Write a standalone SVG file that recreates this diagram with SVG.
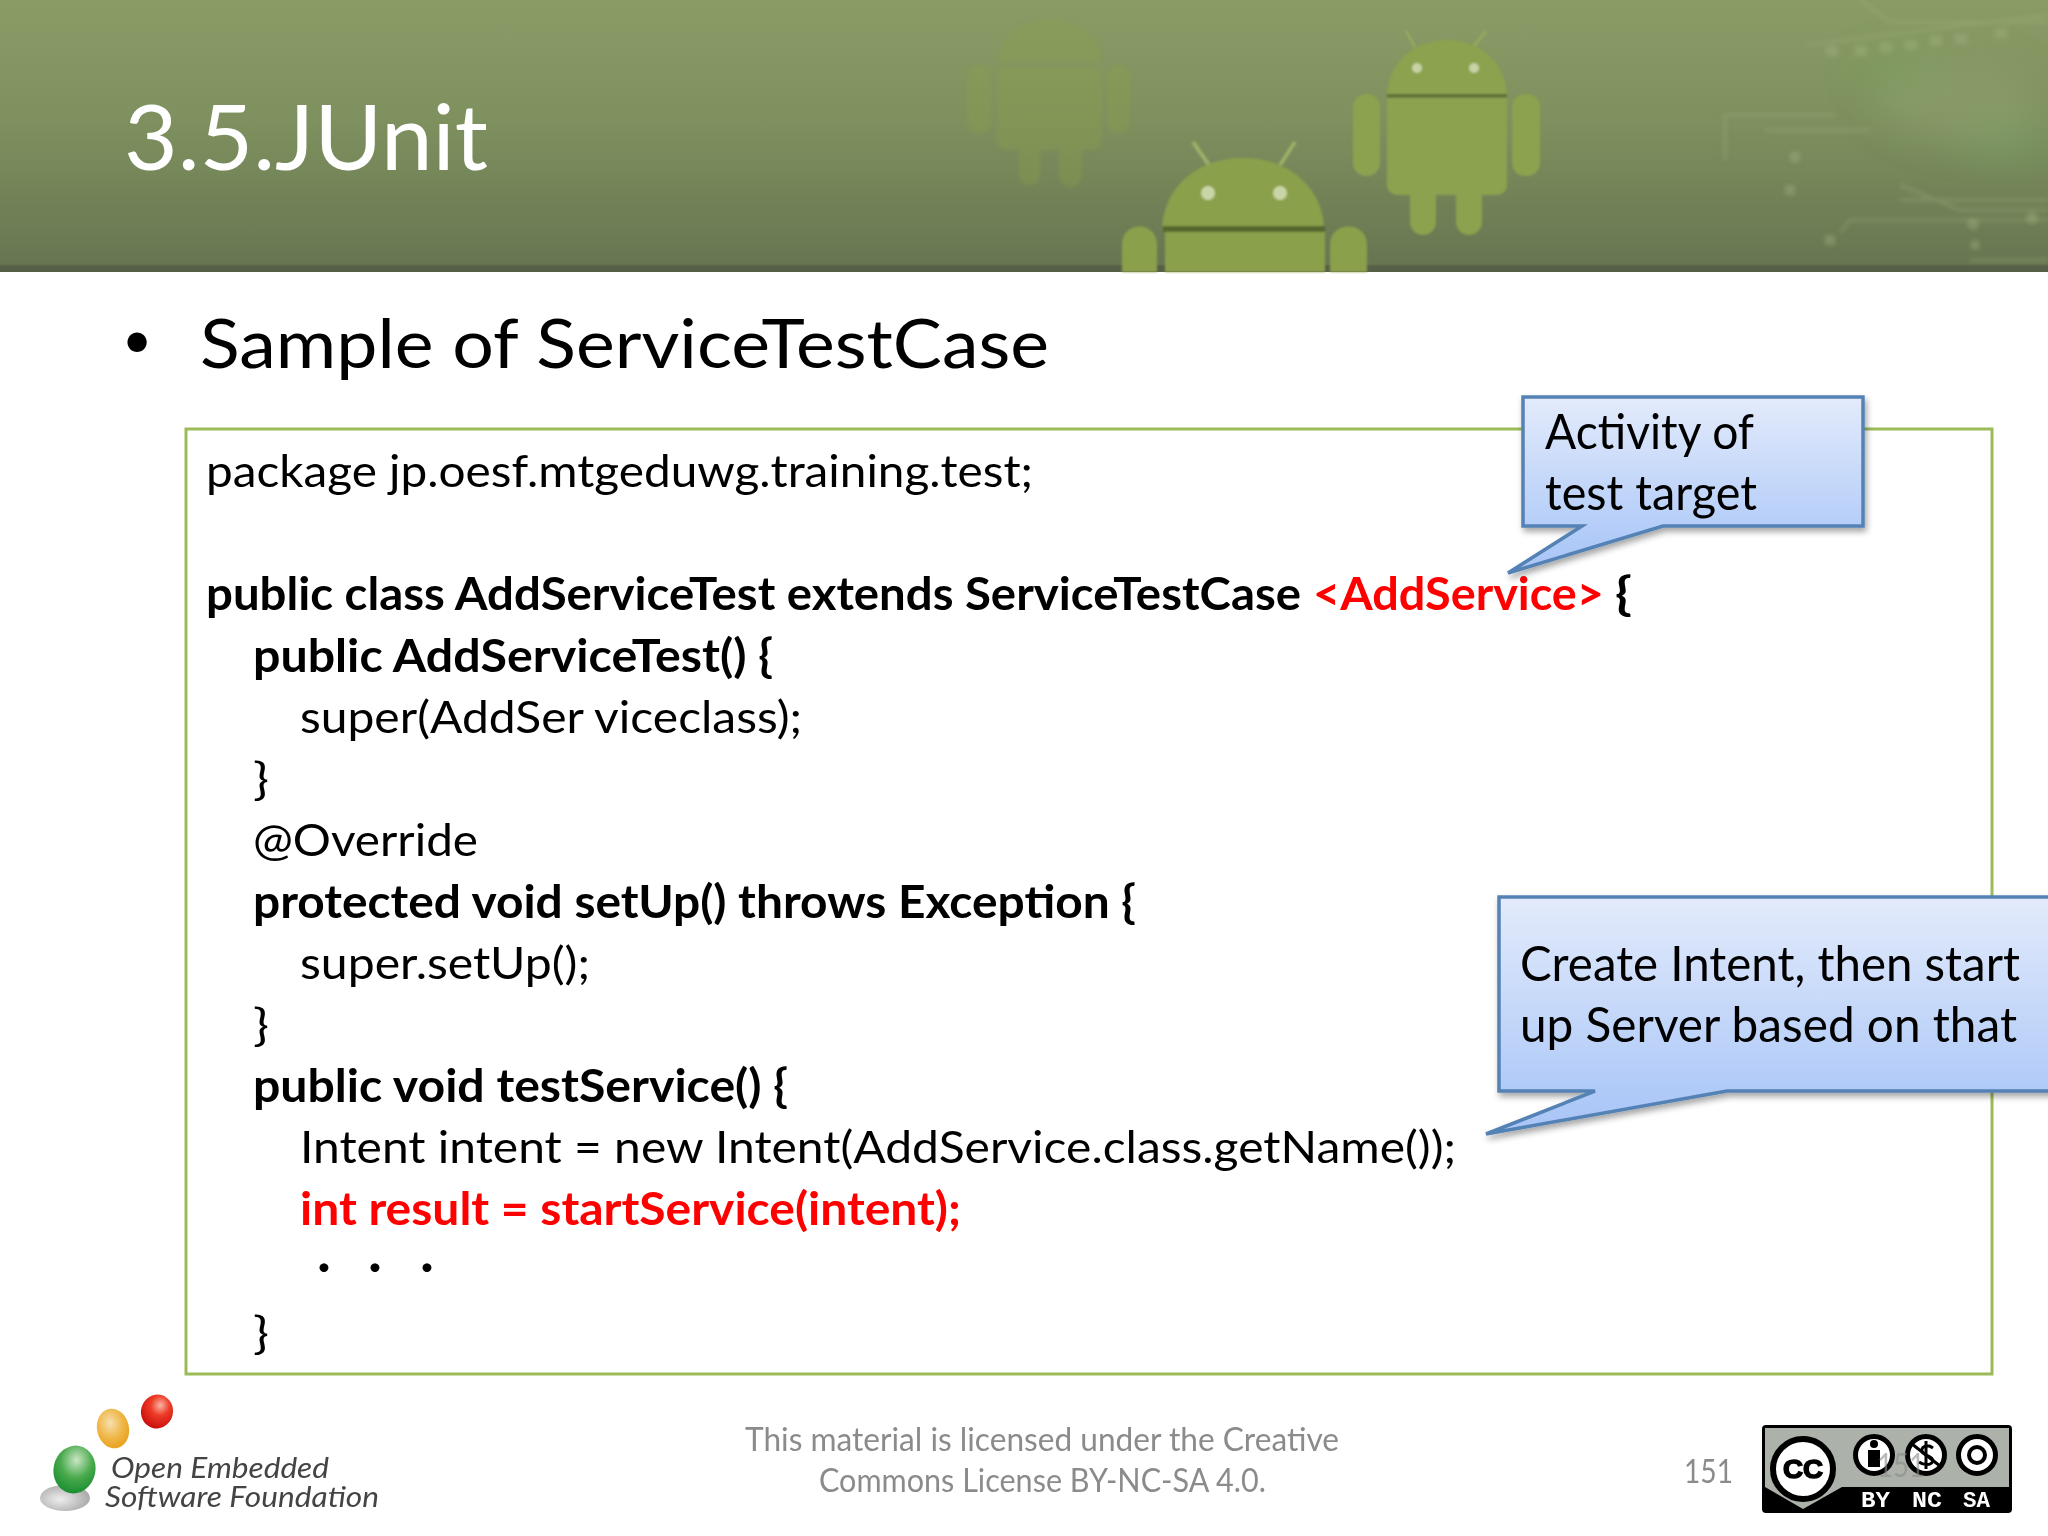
<svg xmlns="http://www.w3.org/2000/svg" width="2048" height="1536" viewBox="0 0 2048 1536">
<style>
text{font-family:Lato,"Liberation Sans",sans-serif}
.c{font-size:45px;fill:#000}
.b{font-weight:700}
.r{fill:#f00}
.call{font-size:48px;fill:#000}
.foot{font-size:32px;fill:#8b8b8b}
.box{stroke:#5482b5;stroke-width:3.5;fill:url(#blue);filter:url(#sh)}
.badgeT{font-family:"Liberation Mono",monospace;font-weight:700;font-size:22px;fill:#fff}
.logoT{font-size:29px;font-style:italic;fill:#444}
.trace{fill:none;stroke:#a3b382;stroke-width:3;opacity:.35}
.pad{fill:#a3b382;opacity:.4}
</style>
<defs>
<linearGradient id="hdr" x1="0" y1="0" x2="0" y2="1"><stop offset="0" stop-color="#8a9c66"/><stop offset=".45" stop-color="#7e905e"/><stop offset=".97" stop-color="#677651"/><stop offset=".98" stop-color="#565f48"/><stop offset="1" stop-color="#555e47"/></linearGradient>
<linearGradient id="blue" x1="0" y1="0" x2="0" y2="1"><stop offset="0" stop-color="#e3ebfb"/><stop offset=".8" stop-color="#b1cbf8"/><stop offset="1" stop-color="#a9c5f6"/></linearGradient>
<filter id="sh" x="-5%" y="-5%" width="110%" height="115%"><feDropShadow dx="2" dy="4" stdDeviation="3" flood-color="#000" flood-opacity=".35"/></filter>
<filter id="bl" x="-10%" y="-10%" width="120%" height="120%"><feGaussianBlur stdDeviation="1.2"/></filter>
<filter id="bl2" x="-10%" y="-10%" width="120%" height="120%"><feGaussianBlur stdDeviation="2"/></filter>
<filter id="bl3" x="-50%" y="-50%" width="200%" height="200%"><feGaussianBlur stdDeviation="18"/></filter>
<radialGradient id="red" cx=".55" cy=".3" r=".75"><stop offset="0" stop-color="#f9b5a5"/><stop offset=".4" stop-color="#ee3b27"/><stop offset="1" stop-color="#c40a0a"/></radialGradient>
<radialGradient id="org" cx=".45" cy=".35" r=".75"><stop offset="0" stop-color="#f6e0b0"/><stop offset=".5" stop-color="#efb84a"/><stop offset="1" stop-color="#e59a10"/></radialGradient>
<radialGradient id="grn" cx=".5" cy=".3" r=".75"><stop offset="0" stop-color="#c9e6c5"/><stop offset=".5" stop-color="#4aaa4d"/><stop offset="1" stop-color="#128a2c"/></radialGradient>
<radialGradient id="gry" cx=".4" cy=".55" r=".6"><stop offset="0" stop-color="#eee"/><stop offset="1" stop-color="#aaa"/></radialGradient>
</defs>
<rect width="2048" height="1536" fill="#fff"/>
<g id="header">
<rect width="2048" height="272" fill="url(#hdr)"/>
<g id="circuit" filter="url(#bl2)">
<ellipse cx="1900" cy="75" rx="40" ry="25" fill="#7d9f62" opacity=".6" filter="url(#bl3)"/>
<ellipse cx="2005" cy="140" rx="45" ry="20" fill="#7a9f66" opacity=".6" filter="url(#bl3)"/>
<ellipse cx="1960" cy="100" rx="80" ry="40" fill="#8d9f6d" opacity=".6" filter="url(#bl3)"/>
<path class="trace" d="M1860 0L1890 22H2048M1805 45L2048 15M1725 115H1835M1725 115V160M1765 130H1870M1900 185L1960 210H2048M1900 200H2048M1965 220H2048M1840 232L1850 220H1970M1970 260H2048"/>
<g class="pad"><rect x="1826" y="46" width="12" height="10"/><rect x="1855" y="46" width="12" height="10"/><rect x="1880" y="42" width="12" height="10"/><rect x="1905" y="40" width="12" height="10"/><rect x="1930" y="36" width="12" height="10"/><rect x="1955" y="34" width="12" height="10"/><rect x="1995" y="28" width="12" height="10"/><rect x="1790" y="152" width="10" height="10"/><rect x="1785" y="185" width="10" height="10"/><rect x="1825" y="235" width="10" height="10"/><circle cx="1973" cy="224" r="6"/><circle cx="2032" cy="218" r="6"/><circle cx="1975" cy="245" r="5"/></g>
</g>
<g id="droid-back" fill="#8aa04b" opacity=".38" filter="url(#bl2)">
<path d="M997 62C1003 5 1096 5 1102 62Z"/>
<path d="M997 67H1102V140a10 10 0 0 1-10 10H1007a10 10 0 0 1-10-10ZM1019 145h21v30a10 10 0 0 1-21 0ZM1059 145h23v30a11 11 0 0 1-23 0Z"/>
<rect x="967" y="65" width="24" height="68" rx="12"/><rect x="1107" y="65" width="23" height="68" rx="11"/>
</g>
<g id="droid-right" fill="#8ba250" filter="url(#bl)">
<path d="M1406 31L1415 47M1486 31L1473 47" stroke="#93a95f" stroke-width="3" fill="none"/>
<path d="M1387 94C1392 22 1502 22 1507 94Z"/>
<path d="M1387 98H1507V185a10 10 0 0 1-10 10H1397a10 10 0 0 1-10-10Z"/>
<path d="M1410 190h26v32a13 13 0 0 1-26 0ZM1456 190h26v32a13 13 0 0 1-26 0Z"/>
<rect x="1353" y="94" width="27" height="82" rx="13"/>
<rect x="1512" y="94" width="28" height="82" rx="13"/>
<ellipse cx="1417" cy="68" rx="5" ry="5" fill="#c7d3a4"/><ellipse cx="1474" cy="68" rx="5" ry="5" fill="#c7d3a4"/>
<rect x="1387" y="94" width="120" height="3.500" fill="#5f7135"/>
</g>
<g id="droid-front" fill="#8aa04b" filter="url(#bl)">
<path d="M1193 142L1209 165M1295 142L1280 165" stroke="#9bb067" stroke-width="4" fill="none"/>
<path d="M1162 226C1170 135 1316 135 1324 226Z"/>
<path d="M1165 232H1325V272H1165Z"/>
<path d="M1122 272V245C1122 220 1157 220 1157 245V272ZM1330 272V245C1330 220 1367 220 1367 245V272Z"/>
<ellipse cx="1208" cy="193" rx="7" ry="7" fill="#c9d5a6"/><ellipse cx="1280" cy="193" rx="7" ry="7" fill="#c9d5a6"/>
<rect x="1163" y="226" width="162" height="6" fill="#56672f"/>
</g>
<text x="124" y="170" font-size="92" fill="#fff" textLength="364" lengthAdjust="spacingAndGlyphs">3.5.JUnit</text>
</g>
<g id="heading">
<text x="122" y="358" font-size="52" fill="#000">•</text>
<text x="200" y="368" font-size="68" fill="#000" textLength="849" lengthAdjust="spacingAndGlyphs">Sample of ServiceTestCase</text>
</g>
<g id="code">
<rect x="186" y="429" width="1806" height="945" fill="#fff" stroke="#9bbb59" stroke-width="3"/>
<text class="c" x="206" y="487" textLength="827" lengthAdjust="spacingAndGlyphs">package jp.oesf.mtgeduwg.training.test;</text>
<text class="c b" x="206" y="610" textLength="1095" lengthAdjust="spacingAndGlyphs">public class AddServiceTest extends ServiceTestCase</text>
<text class="c b r" x="1313" y="610" textLength="291" lengthAdjust="spacingAndGlyphs">&lt;AddService&gt;</text>
<text class="c b" x="1615" y="610" textLength="17" lengthAdjust="spacingAndGlyphs">{</text>
<text class="c b" x="253" y="672" textLength="520" lengthAdjust="spacingAndGlyphs">public AddServiceTest() {</text>
<text class="c" x="300" y="733" textLength="502" lengthAdjust="spacingAndGlyphs">super(AddSer viceclass);</text>
<text class="c" x="253" y="795" textLength="16" lengthAdjust="spacingAndGlyphs">}</text>
<text class="c" x="253" y="856" textLength="225" lengthAdjust="spacingAndGlyphs">@Override</text>
<text class="c b" x="253" y="918" textLength="883" lengthAdjust="spacingAndGlyphs">protected void setUp() throws Exception {</text>
<text class="c" x="300" y="979" textLength="290" lengthAdjust="spacingAndGlyphs">super.setUp();</text>
<text class="c" x="253" y="1041" textLength="16" lengthAdjust="spacingAndGlyphs">}</text>
<text class="c b" x="253" y="1102" textLength="535" lengthAdjust="spacingAndGlyphs">public void testService() {</text>
<text class="c" x="300" y="1163" textLength="1156" lengthAdjust="spacingAndGlyphs">Intent intent = new Intent(AddService.class.getName());</text>
<text class="c b r" x="300" y="1225" textLength="661" lengthAdjust="spacingAndGlyphs">int result = startService(intent);</text>
<text x="317" y="1275" font-size="24">•</text><text x="368" y="1275" font-size="24">•</text><text x="420" y="1275" font-size="24">•</text>
<text class="c" x="253" y="1349" textLength="16" lengthAdjust="spacingAndGlyphs">}</text>
</g>
<g id="callout-activity">
<path class="box" d="M1523 397H1863V526H1663L1508 573L1582 526H1523Z"/>
<text class="call" x="1545" y="449" textLength="209" lengthAdjust="spacingAndGlyphs">Activity of</text>
<text class="call" x="1545" y="510" textLength="212" lengthAdjust="spacingAndGlyphs">test target</text>
</g>
<g id="callout-intent">
<path class="box" d="M1499 897H2050V1091H1727L1486 1134L1595 1091H1499Z"/>
<text class="call" x="1520" y="981" textLength="500" lengthAdjust="spacingAndGlyphs">Create Intent, then start</text>
<text class="call" x="1520" y="1042" textLength="497" lengthAdjust="spacingAndGlyphs">up Server based on that</text>
</g>
<g id="logo">
<ellipse cx="65" cy="1498" rx="25" ry="13" fill="url(#gry)"/>
<ellipse cx="74.500" cy="1469.500" rx="21" ry="24" fill="url(#grn)" transform="rotate(12 74.500 1469.500)"/>
<ellipse cx="113" cy="1428.500" rx="16" ry="20" fill="url(#org)" transform="rotate(-12 113 1428.500)"/>
<ellipse cx="157" cy="1411.500" rx="16" ry="17" fill="url(#red)" transform="rotate(15 157 1411.500)"/>
<text class="logoT" x="111" y="1478" textLength="218" lengthAdjust="spacingAndGlyphs">Open Embedded</text>
<text class="logoT" x="105" y="1507" textLength="274" lengthAdjust="spacingAndGlyphs">Software Foundation</text>
</g>
<g id="footer">
<text class="foot" x="745" y="1451" textLength="594" lengthAdjust="spacingAndGlyphs">This material is licensed under the Creative</text>
<text class="foot" x="819" y="1492" textLength="447" lengthAdjust="spacingAndGlyphs">Commons License BY-NC-SA 4.0.</text>
<text class="foot" x="1684" y="1483" textLength="49" lengthAdjust="spacingAndGlyphs">151</text>
</g>
<g id="cc-badge">
<rect x="1762" y="1425" width="250" height="88" rx="4" fill="#000"/>
<rect x="1765" y="1428" width="244" height="59" fill="#acb1aa"/>
<path d="M1765 1487H1842L1803 1509Z" fill="#acb1aa"/>
<circle cx="1803" cy="1469" r="30" fill="#fff" stroke="#000" stroke-width="6"/>
<text x="1783" y="1478" font-size="26" font-weight="700" style="font-family:'Liberation Sans',sans-serif" stroke="#000" stroke-width="1.500" fill="#000" textLength="40" lengthAdjust="spacingAndGlyphs">CC</text>
<g fill="#fff" stroke="#000" stroke-width="5">
<circle cx="1874" cy="1455" r="18.500"/><circle cx="1926" cy="1455" r="18.500"/><circle cx="1977" cy="1455" r="18.500"/>
</g>
<circle cx="1874" cy="1444" r="4"/><rect x="1868" y="1450" width="12" height="17"/>
<path d="M1933 1448C1926 1443 1919 1448 1923 1453C1926 1456 1933 1456 1933 1461C1931 1466 1923 1465 1919 1462M1926 1441V1469" fill="none" stroke="#000" stroke-width="3"/>
<path d="M1912 1444L1940 1466" stroke="#000" stroke-width="3"/>
<circle cx="1977" cy="1455" r="8" fill="none" stroke="#000" stroke-width="4"/>
<text class="badgeT" x="1861" y="1507" textLength="29" lengthAdjust="spacingAndGlyphs">BY</text><text class="badgeT" x="1912" y="1507" textLength="30" lengthAdjust="spacingAndGlyphs">NC</text><text class="badgeT" x="1963" y="1507" textLength="27" lengthAdjust="spacingAndGlyphs">SA</text>
<text x="1877" y="1477" font-size="32" fill="#8b8b8b" opacity=".6" textLength="48" lengthAdjust="spacingAndGlyphs">151</text>
</g>
</svg>
